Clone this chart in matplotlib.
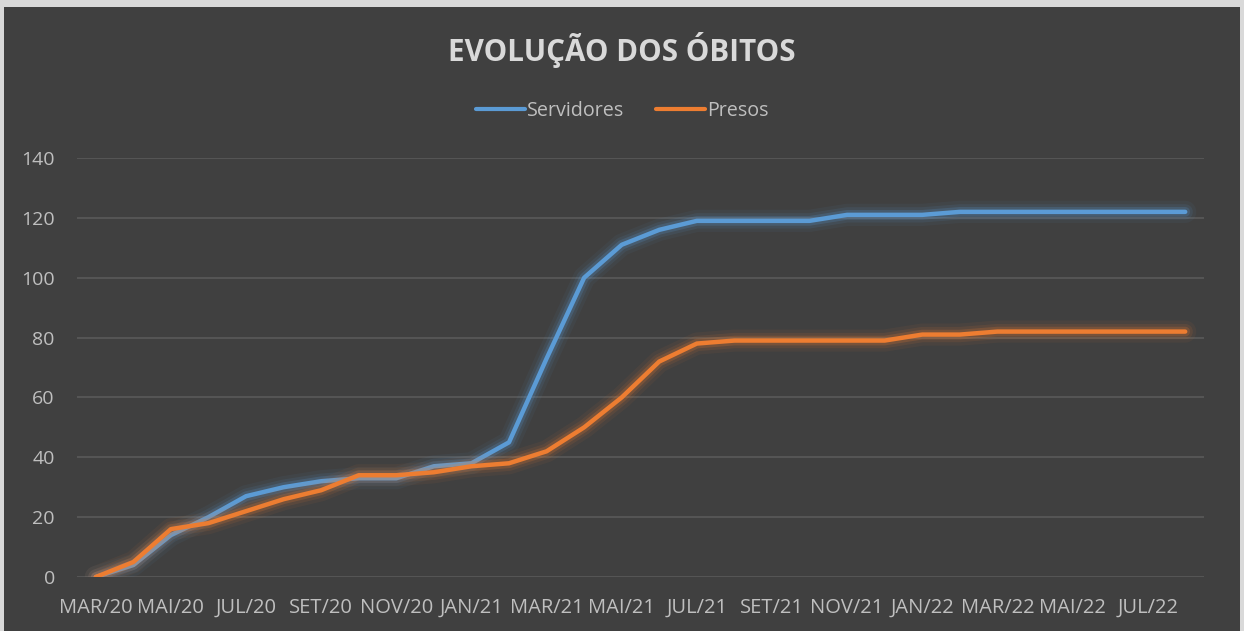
import matplotlib.pyplot as plt
import matplotlib.patheffects as pe
from matplotlib.patches import Rectangle

# Dados
meses = ['MAR/20', 'ABR/20', 'MAI/20', 'JUN/20', 'JUL/20', 'AGO/20', 'SET/20', 'OUT/20',
         'NOV/20', 'DEZ/20', 'JAN/21', 'FEV/21', 'MAR/21', 'ABR/21', 'MAI/21', 'JUN/21',
         'JUL/21', 'AGO/21', 'SET/21', 'OUT/21', 'NOV/21', 'DEZ/21', 'JAN/22', 'FEV/22',
         'MAR/22', 'ABR/22', 'MAI/22', 'JUN/22', 'JUL/22', 'AGO/22']
servidores = [0, 4, 14, 20, 27, 30, 32, 33, 33, 37, 38, 45, 73, 100, 111, 116, 119, 119,
              119, 119, 121, 121, 121, 122, 122, 122, 122, 122, 122, 122]
presos = [0, 5, 16, 18, 22, 26, 29, 34, 34, 35, 37, 38, 42, 50, 60, 72, 78, 79,
          79, 79, 79, 79, 81, 81, 82, 82, 82, 82, 82, 82]

fundo = '#404040'
texto = '#d9d9d9'
azul = '#5B9BD5'
laranja = '#ED7D31'

plt.rcParams['font.family'] = ['Open Sans', 'DejaVu Sans']

fig = plt.figure(figsize=(12.44, 6.31), dpi=100)
fig.patch.set_facecolor('#d9d9d9')
fundo_ret = Rectangle((4 / 1244, 0), 1236 / 1244, 624 / 631,
                      transform=fig.transFigure, facecolor=fundo,
                      edgecolor='none', zorder=-10)
fig.patches.append(fundo_ret)

ax = fig.add_axes([77 / 1244, 1 - 577 / 631, (1204 - 77) / 1244, (577 - 158) / 631])
ax.set_facecolor(fundo)

x = list(range(len(meses)))


def brilho(cor):
    return [pe.Stroke(linewidth=16, foreground=cor, alpha=0.06),
            pe.Stroke(linewidth=11, foreground=cor, alpha=0.10),
            pe.Stroke(linewidth=7, foreground=cor, alpha=0.20),
            pe.Normal()]


ax.plot(x, servidores, color=azul, lw=3.2, label='Servidores',
        solid_joinstyle='round', solid_capstyle='round', path_effects=brilho(azul), zorder=3)
ax.plot(x, presos, color=laranja, lw=3.2, label='Presos',
        solid_joinstyle='round', solid_capstyle='round', path_effects=brilho(laranja), zorder=4)

ax.set_xlim(-0.5, len(meses) - 0.5)
ax.set_ylim(0, 140)
ax.set_yticks(range(0, 141, 20))
ax.set_xticks(x[::2])
ax.set_xticklabels(meses[::2])
ax.grid(axis='y', color='#5a5a5a', lw=1.2)
ax.set_axisbelow(True)
for s in ax.spines.values():
    s.set_visible(False)
ax.tick_params(length=0, colors='#bfbfbf')
ax.tick_params(axis='x', pad=15, labelsize=14.5)
ax.tick_params(axis='y', pad=16, labelsize=14)

fig.text(0.5, 1 - 50 / 631, 'EVOLUÇÃO DOS ÓBITOS', ha='center', va='center',
         fontsize=21.3, fontweight='bold', color=texto)

leg = fig.legend(loc='center', bbox_to_anchor=(0.5, 1 - 111 / 631), ncol=2, frameon=False,
                 fontsize=14.2, labelcolor='#bfbfbf', handlelength=2.5, handletextpad=0.1,
                 columnspacing=1.6)
for h in leg.get_lines():
    h.set_path_effects([])
    h.set_linewidth(3)

fig.savefig('out.png', dpi=100, facecolor=fig.get_facecolor())
